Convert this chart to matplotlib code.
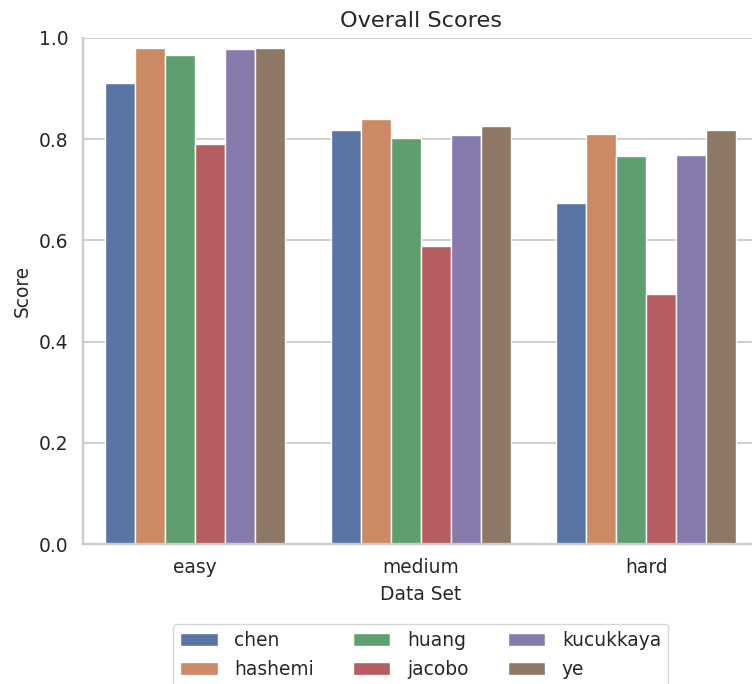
import numpy as np
import pandas as pd
import seaborn as sns
import matplotlib
matplotlib.use("Agg")
import matplotlib.pyplot as plt

datasets = ["easy", "medium", "hard"]
methods = ["chen", "hashemi", "huang", "jacobo", "kucukkaya", "ye"]
chen = [0.912, 0.818, 0.673]
hashemi = [0.981, 0.840, 0.810]
huang = [0.966, 0.803, 0.767]
jacobo = [0.791, 0.588, 0.495]
kucukkaya = [0.979, 0.808, 0.769]
ye = [0.980, 0.827, 0.818]

rows = []
for m, vals in zip(methods, [chen, hashemi, huang, jacobo, kucukkaya, ye]):
    for d, v in zip(datasets, vals):
        rows.append({"Data Set": d, "Score": v, "method": m})
df = pd.DataFrame(rows)

S = 1.34  # picture looks like a scaled up default render
sns.set_theme(style="whitegrid")
plt.rcParams.update({
    "font.size": 10 * S,
    "xtick.labelsize": 10 * S,
    "ytick.labelsize": 10 * S,
    "axes.labelsize": 10 * S,
    "axes.titlesize": 12 * S,
    "legend.fontsize": 10 * S,
    "xtick.major.size": 0,
    "ytick.major.size": 0,
    "xtick.major.pad": 10.2,
    "ytick.major.pad": 10.2,
    "axes.labelpad": 4 * S,
    "axes.titlepad": 6 * S,
    "axes.linewidth": 1.25 * S,
    "grid.linewidth": 1.0 * S,
})

# the axes runs a little past the right edge of the picture (cropped)
W, H = 752, 684
left, right, top, bottom = 82.5, 759, 38, 544
fig = plt.figure(figsize=(W / 100, H / 100), dpi=100)
ax = fig.add_axes([left / W, 1 - bottom / H, (right - left) / W, (bottom - top) / H])
sns.barplot(data=df, x="Data Set", y="Score", hue="method", order=datasets,
            hue_order=methods, ax=ax)
ax.set_ylim(0, 1.0)
ax.set_title("Overall Scores")
sns.despine(ax=ax, top=True, right=True)
ax.legend(loc="upper center", bbox_to_anchor=(0.5, -0.158), ncol=3,
          frameon=True, borderaxespad=0, handletextpad=0.9,
          columnspacing=2.1)
fig.savefig("out.png", dpi=100)
